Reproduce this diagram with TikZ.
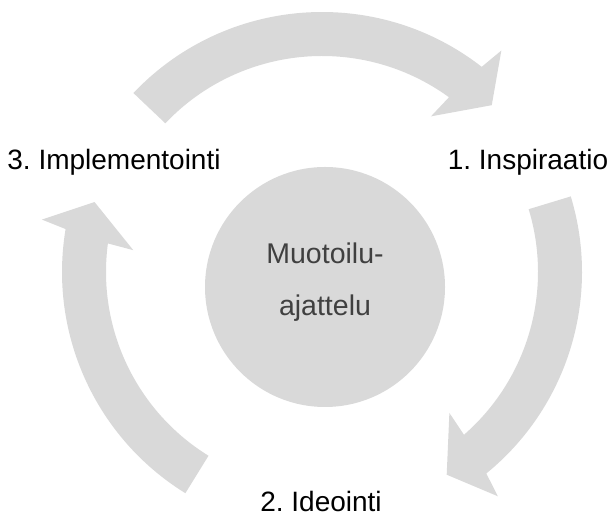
\documentclass[tikz,border=0pt]{standalone}
\usepackage{fontspec}
\setmainfont{Liberation Sans}
\definecolor{ringgray}{HTML}{D9D9D9}
\definecolor{textgray}{HTML}{404040}

\begin{document}
\frenchspacing
\begin{tikzpicture}[x=1pt, y=1pt,
  phase/.style={font=\fontsize{28}{34}\selectfont, inner sep=0pt, anchor=base},
  coretext/.style={font=\fontsize{28.5}{52}\selectfont, text=textgray, align=center, inner sep=0pt}]

\useasboundingbox (0,0) rectangle (610,526);

\def\ro{260} % outer radius of the ring
\def\ri{216} % inner radius of the ring

% Centre circle
\node[circle, fill=ringgray, minimum size=240pt, inner sep=0pt] (core) at (325,239) {};
\node[coretext] (corelabel) at ([yshift=5pt]core.center) {Muotoilu-\\ajattelu};

% Ring arrows (tail angle / tip angle)
\begin{scope}[shift={(322,254)}]
\foreach \tail/\tip in {136.5/44.5, 16.9/-58.4, 238.3/162.9}{
  \fill[ringgray] (\tail:\ro) arc[start angle=\tail, end angle=\tip+7.6, radius=\ro]
    -- (\tip+6.5:285) -- (\tip:238) -- (\tip+10.5:190) -- (\tip+9.5:\ri)
    arc[start angle=\tip+9.5, end angle=\tail, radius=\ri] -- cycle;
}
\end{scope}

% Phase labels
\node[phase] (inspiraatio) at (528,356) {1. Inspiraatio};
\node[phase] (ideointi) at (321,14) {2. Ideointi};
\node[phase] (implementointi) at (114,356) {3. Implementointi};

\end{tikzpicture}
\end{document}
